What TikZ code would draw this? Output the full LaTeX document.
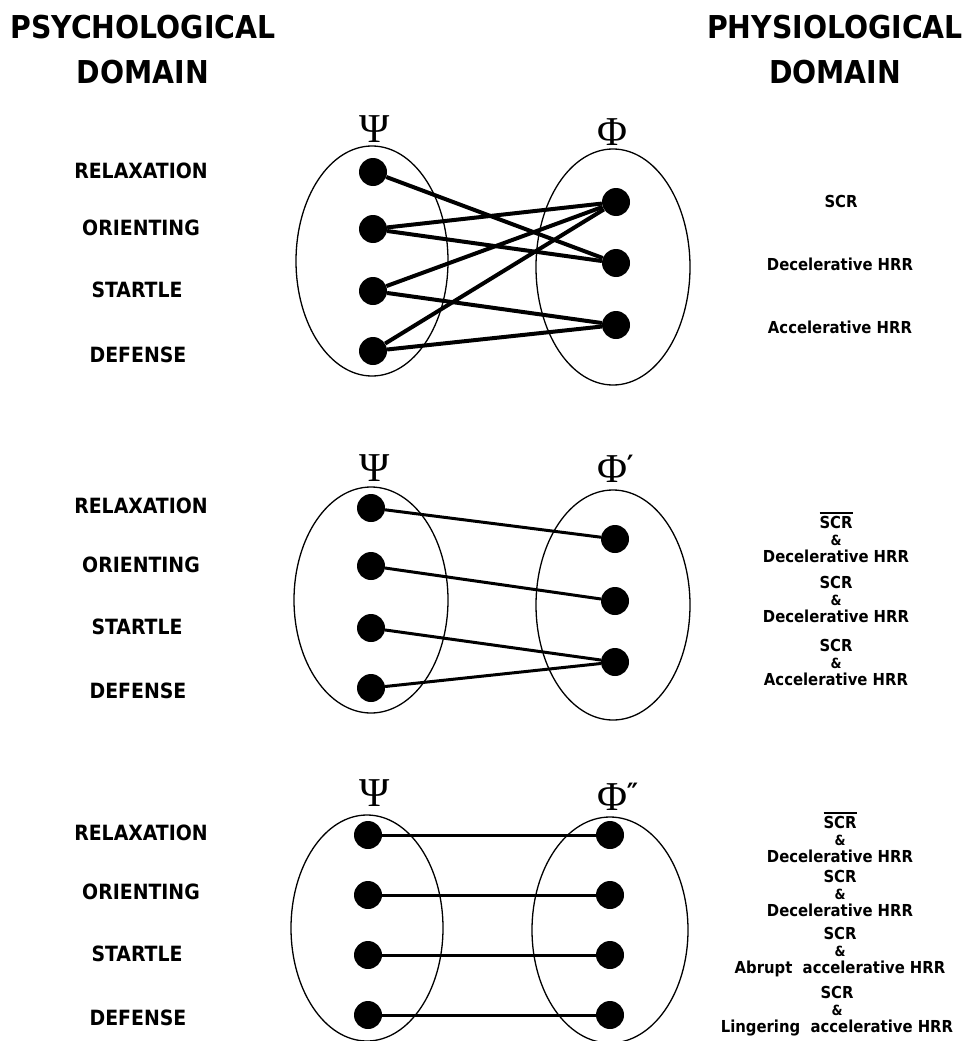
\documentclass[tikz,border=0pt]{standalone}
\usepackage{fontspec}
\usepackage{tikz}
\usetikzlibrary{shapes.geometric}
\newfontfamily\chifont{DejaVu Sans Condensed}
\newfontfamily\grkfont{Liberation Serif}
\newcommand\barscr{\leavevmode\vbox{\hrule height 2.5pt\kern1.5pt\hbox{SCR}}}
\newcommand\amp{{\fontsize{14}{14}\selectfont\&}}
\newcommand\tick[1]{\rlap{\raisebox{7pt}{\chifont\bfseries\fontsize{28}{28}\selectfont #1}}}

\begin{document}
\begin{tikzpicture}[x=1pt, y=-1pt,
  head/.style = {font=\chifont\bfseries\fontsize{31.5}{45}\selectfont, align=center},
  psy/.style = {font=\chifont\bfseries\fontsize{21}{24}\selectfont},
  phy/.style = {font=\chifont\bfseries\fontsize{16.5}{17}\selectfont, align=center},
  grk/.style = {font=\grkfont\fontsize{41}{41}\selectfont, inner sep=0pt},
  set/.style = {draw, ellipse, line width=1.3pt, inner sep=0pt},
  dot/.style = {circle, fill, inner sep=0pt, minimum size=28pt},
  link/.style = {line width=3pt}]
\useasboundingbox (0,0) rectangle (964,1041);

\node[head] (hl) at (143,50) {PSYCHOLOGICAL\\DOMAIN};
\node[head] (hr) at (835,50) {PHYSIOLOGICAL\\DOMAIN};

% first pair of sets
\node[grk] (psia) at (375,129) {Ψ};
\node[grk] (phia) at (612,132) {Φ};
\node[set, minimum width=152pt, minimum height=230pt] (sa) at (372,261) {};
\node[set, minimum width=154pt, minimum height=236pt] (ta) at (613,267) {};
\node[dot] (a1) at (373,172) {};
\node[dot] (a2) at (373,229) {};
\node[dot] (a3) at (373,291) {};
\node[dot] (a4) at (373,351) {};
\node[dot] (b1) at (616,202) {};
\node[dot] (b2) at (616,263) {};
\node[dot] (b3) at (616,325) {};
\draw[link, line width=4pt] (a1) -- (b2);
\draw[link, line width=4pt] (a2) -- (b1);
\draw[link, line width=4pt] (a2) -- (b2);
\draw[link, line width=4pt] (a3) -- (b1);
\draw[link, line width=4pt] (a3) -- (b3);
\draw[link, line width=4pt] (a4) -- (b1);
\draw[link, line width=4pt] (a4) -- (b3);
\node[psy] (la1) at (141,171) {RELAXATION};
\node[psy] (la2) at (141,228) {ORIENTING};
\node[psy] (la3) at (137,290) {STARTLE};
\node[psy] (la4) at (138,355) {DEFENSE};
\node[phy] (ra1) at (841,201) {SCR};
\node[phy] (ra2) at (840,264) {Decelerative HRR};
\node[phy] (ra3) at (840,327) {Accelerative HRR};

% second pair
\node[grk] (psib) at (375,468) {Ψ};
\node[grk] (phib) at (612,469) {Φ\tick{′}};
\node[set, minimum width=154pt, minimum height=226pt] (sb) at (371,600) {};
\node[set, minimum width=154pt, minimum height=230pt] (tb) at (613,605) {};
\node[dot] (c1) at (371,508) {};
\node[dot] (c2) at (371,566) {};
\node[dot] (c3) at (371,628) {};
\node[dot] (c4) at (371,688) {};
\node[dot] (d1) at (615,539) {};
\node[dot] (d2) at (615,601) {};
\node[dot] (d3) at (615,662) {};
\draw[link] (c1) -- (d1);
\draw[link] (c2) -- (d2);
\draw[link] (c3) -- (d3);
\draw[link] (c4) -- (d3);
\node[psy] (lb1) at (141,506) {RELAXATION};
\node[psy] (lb2) at (141,565) {ORIENTING};
\node[psy] (lb3) at (137,627) {STARTLE};
\node[psy] (lb4) at (138,691) {DEFENSE};
\node[phy] (rb1) at (836,537) {\barscr\\\amp\\Decelerative HRR};
\node[phy] (rb2) at (836,599) {SCR\\\amp\\Decelerative HRR};
\node[phy] (rb3) at (836,662) {SCR\\\amp\\Accelerative HRR};

% third pair
\node[grk] (psic) at (375,793) {Ψ};
\node[grk] (phic) at (612,797) {Φ\tick{″}};
\node[set, minimum width=152pt, minimum height=226pt] (sc) at (367,928) {};
\node[set, minimum width=156pt, minimum height=226pt] (tc) at (610,930) {};
\node[dot] (e1) at (368,835) {};
\node[dot] (e2) at (368,895) {};
\node[dot] (e3) at (368,955) {};
\node[dot] (e4) at (368,1015) {};
\node[dot] (f1) at (610,835) {};
\node[dot] (f2) at (610,895) {};
\node[dot] (f3) at (610,955) {};
\node[dot] (f4) at (610,1015) {};
\draw[link] (e1) -- (f1);
\draw[link] (e2) -- (f2);
\draw[link] (e3) -- (f3);
\draw[link] (e4) -- (f4);
\node[psy] (lc1) at (141,833) {RELAXATION};
\node[psy] (lc2) at (141,892) {ORIENTING};
\node[psy] (lc3) at (137,954) {STARTLE};
\node[psy] (lc4) at (138,1018) {DEFENSE};
\node[phy] (rc1) at (840,837) {\barscr\\\amp\\Decelerative HRR};
\node[phy] (rc2) at (840,893) {SCR\\\amp\\Decelerative HRR};
\node[phy] (rc3) at (840,952) {SCR\\\amp\\Abrupt\ \ accelerative HRR};
\node[phy] (rc4) at (837,1011) {SCR\\\amp\\Lingering\ \ accelerative HRR};
\end{tikzpicture}
\end{document}
